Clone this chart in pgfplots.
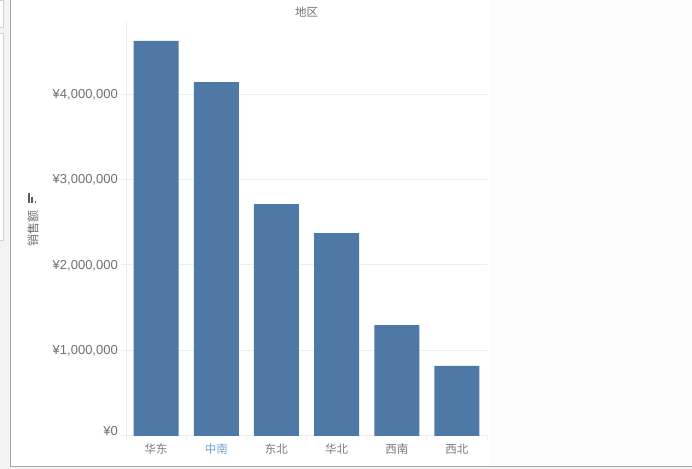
\documentclass[border=0pt]{standalone}
\usepackage{pgfplots}
\pgfplotsset{compat=1.18}
\usepackage{fontspec}
\setmainfont{Liberation Sans}
\newfontfamily\cjk{Noto Sans CJK SC}
\definecolor{barblue}{HTML}{4E79A7}
\definecolor{ticktext}{HTML}{707070}
\definecolor{cattext}{HTML}{7A7A7A}
\definecolor{hl}{HTML}{6F9FD3}
\definecolor{gridgray}{HTML}{EEEEEE}
\definecolor{framegray}{HTML}{A8A8A8}
\definecolor{panelbg}{HTML}{F3F3F3}
\definecolor{boxgray}{HTML}{D0D0D0}

\begin{document}
\begin{tikzpicture}[x=1bp,y=1bp]
% 1 unit = 1 pixel of the 692x469 reference, y measured up from the bottom
\useasboundingbox (0,0) rectangle (692,469);
\fill[panelbg] (0,0) rectangle (692,469);
\fill[white] (10,2) rectangle (692,469);
\fill[white!99!black] (490,2) rectangle (692,469);
\draw[boxgray,fill=white] (-5,469) rectangle (3,442);
\draw[boxgray,fill=white] (-5,436) rectangle (3,229);
\draw[framegray,line width=1bp] (10,469) -- (10,2) -- (692,2);

\begin{axis}[
  at={(126bp,33bp)}, anchor=south west,
  scale only axis, width=361bp, height=415bp,
  xmin=-0.5, xmax=5.5, ymin=0, ymax=4854000,
  ybar, bar width=45bp,
  axis x line=bottom, axis y line=left,
  axis line style={-,draw=gridgray,line width=1bp},
  tick align=outside, major tick length=5bp, minor tick length=4bp,
  xtick={0,...,5},
  minor xtick={-0.5,0.5,...,5.5},
  major x tick style={draw=none},
  minor x tick style={draw=gridgray,line width=1bp},
  xticklabels={华东,\textcolor{hl}{中南},东北,华北,西南,西北},
  xticklabel style={font=\cjk\fontsize{11.5bp}{13bp}\selectfont,text=cattext,
                    inner sep=0pt,yshift=-2.5bp},
  ytick={0,1000000,2000000,3000000,4000000},
  yticklabels={\raisebox{11bp}{¥0},{¥1,000,000},{¥2,000,000},{¥3,000,000},{¥4,000,000}},
  scaled y ticks=false,
  y tick style={draw=gridgray,line width=1bp},
  yticklabel style={font=\fontsize{13bp}{14bp}\selectfont,text=ticktext,
                    inner sep=0pt,xshift=-3bp,yshift=-0.5bp},
  ymajorgrids, grid style={gridgray,line width=1bp},
  clip=false,
]
\addplot[fill=barblue,draw=none] coordinates
  {(0,4620000) (1,4140000) (2,2713000) (3,2374000) (4,1298000) (5,819000)};
\end{axis}

% title and y axis caption
\node[font=\cjk\fontsize{11.5bp}{13bp}\selectfont,text=ticktext] at (306.5,457) {地区};
\node[font=\cjk\fontsize{12bp}{13bp}\selectfont,text=ticktext,rotate=90] at (33,240) {销售额};
% sort icon beside the caption
\fill[ticktext!80!black] (28,266) rectangle (29.6,276);
\fill[ticktext!80!black] (31,266) rectangle (32.6,272);
\fill[ticktext!80!black] (34.5,266) rectangle (36,268);
\end{tikzpicture}
\end{document}
